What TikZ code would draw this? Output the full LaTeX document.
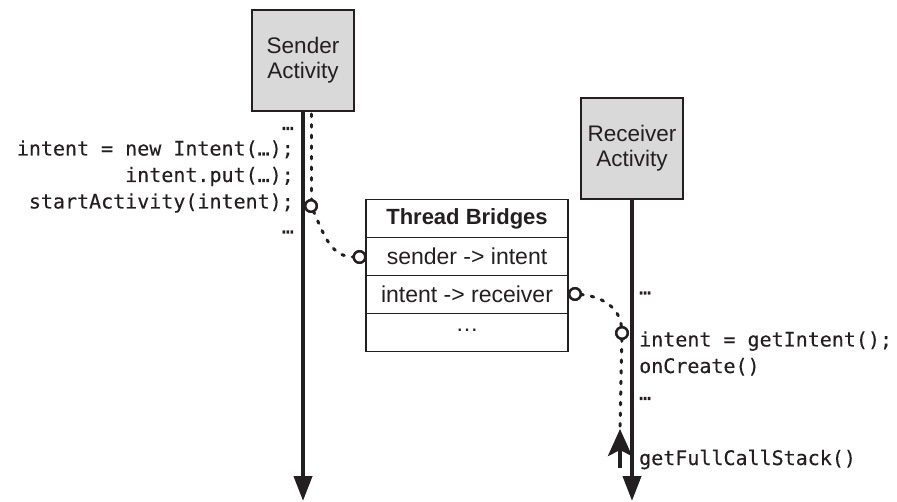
\documentclass[tikz,border=0pt]{standalone}
\usepackage{fontspec}
\setmainfont{Liberation Sans}
\newfontfamily\codefont[FakeBold=0.3]{DejaVu Sans Mono}
\usetikzlibrary{arrows.meta}
\definecolor{ink}{HTML}{231F20}
\definecolor{boxgray}{HTML}{D9D9DA}

\begin{document}
\begin{tikzpicture}[x=1pt,y=-1pt,
  actor/.style={draw=ink, line width=1.4pt, fill=boxgray, minimum width=102pt,
    minimum height=101pt, inner sep=0pt, outer sep=0pt, align=center, text=ink,
    font=\fontsize{22.5}{25}\selectfont},
  cell/.style={draw=ink, line width=1.2pt, minimum width=202pt, minimum height=38pt,
    inner sep=0pt, outer sep=0pt, text=ink, font=\fontsize{23}{25}\selectfont},
  code/.style={inner sep=0pt, text=ink, font=\codefont\fontsize{20}{24}\selectfont},
  lifeline/.style={draw=ink, line width=4pt, -{Triangle[length=25pt,width=18pt]}},
  flow/.style={draw=ink, line width=3pt, line cap=round, dash pattern=on 2.6pt off 8pt},
  hook/.style={circle, draw=ink, line width=2.4pt, fill=white, minimum size=11.5pt,
    inner sep=0pt, outer sep=0pt},
  upcall/.style={draw=ink, line width=4.2pt, -{Stealth[length=27pt,width=24pt,inset=6pt]}}]

\useasboundingbox (0,0) rectangle (897,502);

% activities
\node[actor] (sender) at (303,60.5) {Sender\\Activity};
\node[actor] (receiver) at (632,148.5) {Receiver\\Activity};

% bridge table
\node[cell, font=\fontsize{22}{25}\selectfont\bfseries] (title) at (467,218.5) {Thread Bridges};
\node[cell, anchor=north] (rowA) at (title.south) {sender -> intent};
\node[cell, anchor=north] (rowB) at (rowA.south) {intent -> receiver};
\node[cell, anchor=north] (rowC) at (rowB.south) {\raisebox{0.3ex}{…}};

% lifelines
\coordinate (sEnd) at (303,501);
\coordinate (rEnd) at (632,501);
\draw[lifeline] (sender.south) -- (sEnd);
\draw[lifeline] (receiver.south) -- (rEnd);

% sender code
\node[code, anchor=base east] (s0) at (294,130) {…};
\node[code, anchor=base east] (s1) at (294,155.5) {intent = new Intent(…);};
\node[code, anchor=base east] (s2) at (294,182) {intent.put(…);};
\node[code, anchor=base east] (s3) at (294,208.5) {startActivity(intent);};
\node[code, anchor=base east] (s4) at (294,233.5) {…};

% receiver code
\node[code, anchor=base west] (r0) at (639,294.5) {…};
\node[code, anchor=base west] (r1) at (639,346.5) {intent = getIntent();};
\node[code, anchor=base west] (r2) at (639,373) {onCreate()};
\node[code, anchor=base west] (r3) at (639,400) {…};
\node[code, anchor=base west] (r4) at (639,465) {getFullCallStack()};

% hooks
\node[hook] (sC) at (311,206) {};
\node[hook] (bC1) at (359.5,257) {};
\node[hook] (bC2) at (575,294) {};
\node[hook] (rC) at (622,333) {};

% dotted flow of the intent
\coordinate (sTop) at (311,114);
\coordinate (upTip) at (620,429);
\coordinate (upTail) at (620,468);
\draw[flow] (sTop) -- (sC);
\draw[flow] (sC) to[out=-65, in=180] (bC1);
\draw[flow] (bC2) to[out=-5, in=95] (rC);
\draw[flow] (rC) -- (upTip);
\draw[upcall] (upTail) -- (upTip);

% redraw hooks above the dotted lines
\node[hook] at (sC) {};
\node[hook] at (bC1) {};
\node[hook] at (bC2) {};
\node[hook] at (rC) {};
\end{tikzpicture}
\end{document}
